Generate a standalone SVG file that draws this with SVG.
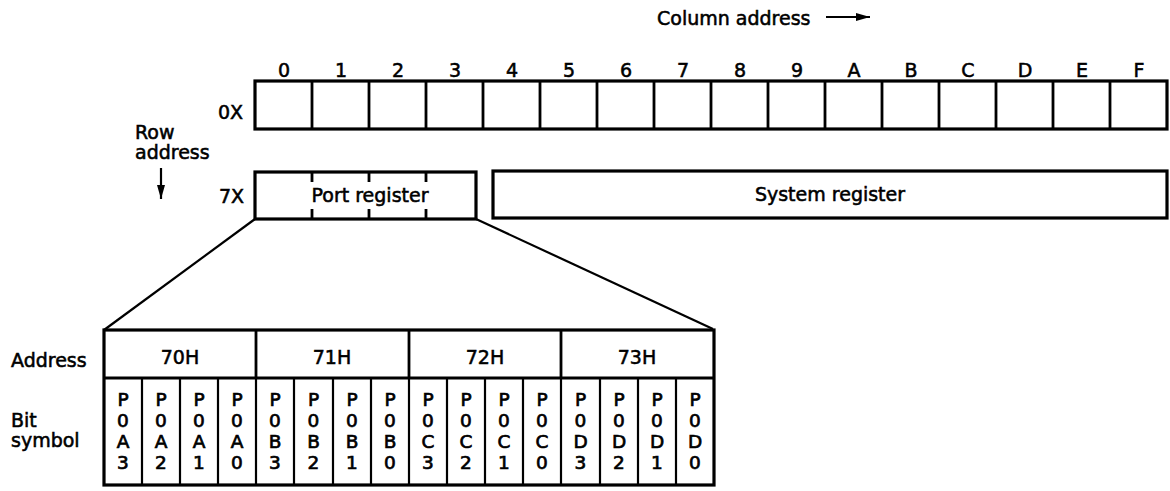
<svg xmlns="http://www.w3.org/2000/svg" width="1170" height="491" viewBox="0 0 1170 491">
<style>
text{font-family:"DejaVu Sans","Liberation Sans",sans-serif;font-size:19px;fill:#000;stroke:#000;stroke-width:0.55}
.c{text-anchor:middle}
.v{font-size:18.5px;text-anchor:middle;writing-mode:vertical-rl;text-orientation:upright;stroke-width:0.7}
.box{fill:#fff;stroke:#000;stroke-width:3.2}
.ln{stroke:#000;stroke-width:2.8;fill:none}
.thin{stroke:#000;stroke-width:2.2;fill:none}
</style>
<defs>
<marker id="ah" viewBox="0 0 14 9" refX="14" refY="4.5" markerWidth="14" markerHeight="9" markerUnits="userSpaceOnUse" orient="auto">
<path d="M0,0.5 L14,4.5 L0,8.5 Z" fill="#000"/>
</marker>
</defs>
<rect width="1170" height="491" fill="#fff"/>

<g id="column-address">
<text x="657" y="25">Column address</text>
</g>

<g id="column-labels">
<text class="c" x="284" y="77">0</text>
<text class="c" x="341" y="77">1</text>
<text class="c" x="398" y="77">2</text>
<text class="c" x="455" y="77">3</text>
<text class="c" x="512" y="77">4</text>
<text class="c" x="569" y="77">5</text>
<text class="c" x="626" y="77">6</text>
<text class="c" x="683" y="77">7</text>
<text class="c" x="740" y="77">8</text>
<text class="c" x="797" y="77">9</text>
<text class="c" x="854" y="77">A</text>
<text class="c" x="911" y="77">B</text>
<text class="c" x="968" y="77">C</text>
<text class="c" x="1025" y="77">D</text>
<text class="c" x="1082" y="77">E</text>
<text class="c" x="1139" y="77">F</text>
</g>

<g id="row-address">
<text x="135" y="139">Row</text>
<text x="135" y="159">address</text>
</g>

<g id="row-0X">
<text x="218" y="119">0X</text>
<rect class="box" x="255" y="81" width="912" height="48"/>
<path class="ln" d="M312,81V129M369,81V129M426,81V129M483,81V129M540,81V129M597,81V129M654,81V129M711,81V129M768,81V129M825,81V129M882,81V129M939,81V129M996,81V129M1053,81V129M1110,81V129"/>
</g>

<g id="row-7X-label">
<text x="219" y="203">7X</text>
</g>

<g id="port-register">
<rect class="box" x="255" y="172" width="221" height="47"/>
<path class="ln" d="M312,172v10M369,172v10M426,172v10M312,219v-10M369,219v-10M426,219v-10"/>
<text class="c" x="370" y="202">Port register</text>
</g>

<g id="system-register">
<rect class="box" x="493" y="171" width="674" height="47"/>
<text class="c" x="830" y="201">System register</text>
</g>

<g id="connectors">
<line class="thin" x1="826" y1="17" x2="870" y2="17" marker-end="url(#ah)"/>
<line class="thin" x1="161" y1="168" x2="161" y2="199" marker-end="url(#ah)"/>
<line class="thin" x1="255" y1="219" x2="104" y2="330"/>
<line class="thin" x1="476" y1="219" x2="713" y2="329"/>
</g>

<g id="table-labels">
<text x="11" y="367">Address</text>
<text x="11" y="427">Bit</text>
<text x="11" y="447">symbol</text>
</g>

<g id="address-table">
<rect class="box" x="104" y="330" width="610" height="155"/>
<path class="ln" d="M104,378H714M256,330V378M409,330V378M561,330V378"/>
<path class="thin" d="M142,378V485M180,378V485M218,378V485M256,378V485M294,378V485M333,378V485M371,378V485M409,378V485M447,378V485M485,378V485M523,378V485M561,378V485M600,378V485M638,378V485M676,378V485"/>
<text class="c" x="180" y="364">70H</text>
<text class="c" x="332" y="364">71H</text>
<text class="c" x="485" y="364">72H</text>
<text class="c" x="637" y="364">73H</text>
</g>

<g id="bit-symbols">
<text class="v" x="123" y="431">P0A3</text>
<text class="v" x="161" y="431">P0A2</text>
<text class="v" x="199" y="431">P0A1</text>
<text class="v" x="237" y="431">P0A0</text>
<text class="v" x="275" y="431">P0B3</text>
<text class="v" x="313.5" y="431">P0B2</text>
<text class="v" x="352" y="431">P0B1</text>
<text class="v" x="390" y="431">P0B0</text>
<text class="v" x="428" y="431">P0C3</text>
<text class="v" x="466" y="431">P0C2</text>
<text class="v" x="504" y="431">P0C1</text>
<text class="v" x="542" y="431">P0C0</text>
<text class="v" x="580.5" y="431">P0D3</text>
<text class="v" x="619" y="431">P0D2</text>
<text class="v" x="657" y="431">P0D1</text>
<text class="v" x="695" y="431">P0D0</text>
</g>
</svg>
